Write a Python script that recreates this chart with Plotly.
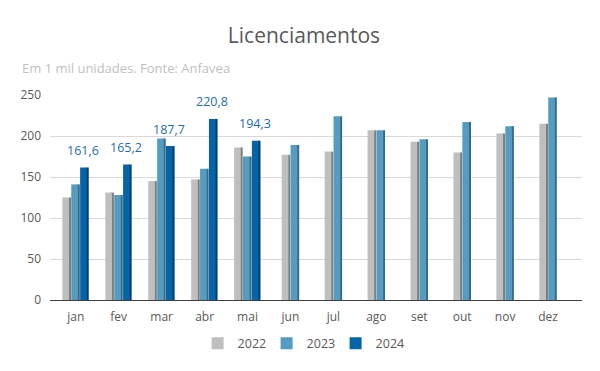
import plotly.graph_objects as go

months = ["jan", "fev", "mar", "abr", "mai", "jun", "jul", "ago", "set", "out", "nov", "dez"]
v2022 = [125, 131, 145, 147, 186, 177, 181, 207, 193, 180, 203, 215]
v2023 = [141, 128, 197, 160, 175, 189, 224, 207, 196, 217, 212, 247]
v2024 = [161.6, 165.2, 187.7, 220.8, 194.3]
years = ["2022", "2023", "2024"]

FONT = "Open Sans"
colors = {"2022": "#bfbfbf", "2023": "#559cc2", "2024": "#0563a8"}
sides = {"2022": "#7f7f7f", "2023": "#3a6a84", "2024": "#033f6e"}

FW = 0.155   # front face width (category units)
SW = 0.045   # side face width
STEP = 0.207

n24 = len(v2024)
first = months[:n24]
second = months[n24:]

fig = go.Figure()

def add_bar(name, xs, ys, offset, show):
    fig.add_trace(go.Bar(x=xs, y=ys, name=name, offset=offset + FW, width=SW,
                         marker=dict(color=sides[name], line=dict(width=0)),
                         showlegend=False, legendgroup=name, hoverinfo="skip"))
    fig.add_trace(go.Bar(x=xs, y=ys, name=name, offset=offset, width=FW,
                         marker=dict(color=colors[name], line=dict(width=0)),
                         showlegend=show, legendgroup=name))

start3 = -1.5 * STEP + (STEP - FW - SW) / 2 - 0.005
add_bar("2022", first, v2022[:n24], start3, True)
add_bar("2023", first, v2023[:n24], start3 + STEP, True)
add_bar("2024", first, v2024, start3 + 2 * STEP, True)
start2 = -1.0 * STEP + (STEP - FW - SW) / 2
add_bar("2022", second, v2022[n24:], start2, False)
add_bar("2023", second, v2023[n24:], start2 + STEP, False)

for m, v in zip(first, v2024):
    fig.add_annotation(x=m, y=v, xref="x", yref="y",
                       text=f"{v:.1f}".replace(".", ","), showarrow=False,
                       xshift=(start3 + 2 * STEP + FW / 2) * 43.1, yshift=17,
                       yanchor="middle",
                       font=dict(family=FONT, size=12.5, color="#1f6cb0"))

fig.add_annotation(text="Em 1 mil unidades. Fonte: Anfavea", xref="paper", yref="paper",
                   x=-0.056, y=1.13, xanchor="left", yanchor="middle", showarrow=False,
                   font=dict(family=FONT, size=13, color="#bfbfbf"))

W, H = 592, 363
fig.update_layout(
    width=W, height=H,
    margin=dict(l=40, r=18, t=87, b=68),
    paper_bgcolor="white", plot_bgcolor="white",
    barmode="overlay",
    title=dict(text="Licenciamentos", x=0.5, xanchor="center", y=1 - 28 / H, yanchor="middle",
               font=dict(family=FONT, size=21, color="#595959")),
    xaxis=dict(categoryorder="array", categoryarray=months, range=[-0.6, 11.79],
               showgrid=False, showline=True, linecolor="#404040", linewidth=1,
               ticks="", tickfont=dict(family=FONT, size=12, color="#595959"),
               ticklabelstandoff=6),
    yaxis=dict(range=[0, 250], tickvals=[0, 50, 100, 150, 200, 250], showgrid=True,
               gridcolor="#d9d9d9", gridwidth=1, zeroline=False, showline=False,
               ticks="", tickfont=dict(family=FONT, size=12, color="#595959"), ticklabelstandoff=8),
    legend=dict(orientation="h", x=0.472, xanchor="center", y=-0.2126, yanchor="middle",
                font=dict(family=FONT, size=12.5, color="#595959"), traceorder="normal",
                entrywidth=24, entrywidthmode="pixels"),
    showlegend=True,
)

fig.write_html("out.html")
